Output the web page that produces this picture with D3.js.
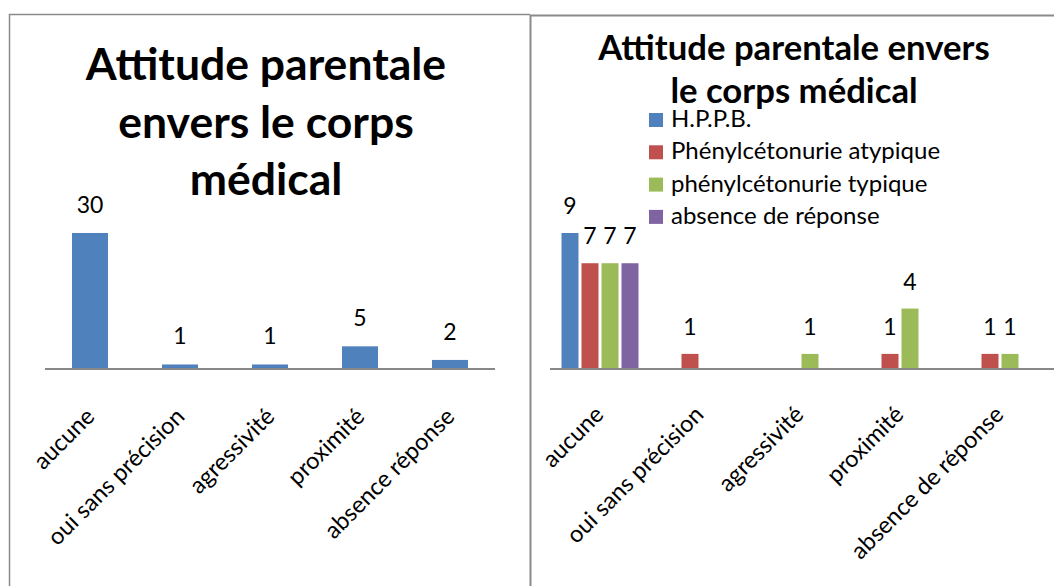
<!DOCTYPE html>
<html>
<head>
<meta charset="utf-8">
<script src="https://cdn.jsdelivr.net/npm/d3@7"></script>
<style>
  html, body { margin: 0; padding: 0; background: #fff; }
  svg { display: block; font-family: Lato, "Liberation Sans", sans-serif; }
</style>
</head>
<body>
<svg id="chart" width="1054" height="586"></svg>
<script>
// Categories shared by both charts
const categoriesLeft = ["aucune", "oui sans précision", "agressivité", "proximité", "absence réponse"];
const categoriesRight = ["aucune", "oui sans précision", "agressivité", "proximité", "absence de réponse"];

// Left chart: overall counts
const totals = [30, 1, 1, 5, 2];

// Right chart: counts by diagnosis
const seriesNames = ["H.P.P.B.", "Phénylcétonurie atypique", "phénylcétonurie typique", "absence de réponse"];
const hppb = [9, 0, 0, 0, 0];
const pcuAtypique = [7, 1, 0, 1, 1];
const pcuTypique = [7, 0, 1, 4, 1];
const absenceReponse = [7, 0, 0, 0, 0];
const seriesValues = [hppb, pcuAtypique, pcuTypique, absenceReponse];

const seriesColors = ["#4F81BD", "#C0504D", "#9BBB59", "#8064A2"];

const svg = d3.select("#chart");
const baseY = 369;
const borderColor = "#8a8a8a";
const axisColor = "#888888";
const valueFont = 23;
const catFont = 23.5;

// Panel frames
svg.append("path")
  .attr("d", "M9.5,586 L9.5,14.5 L530,14.5")
  .attr("fill", "none").attr("stroke", borderColor).attr("stroke-width", 1.5);
svg.append("path")
  .attr("d", "M530.5,586 L530.5,15.5 L1054,15.5")
  .attr("fill", "none").attr("stroke", borderColor).attr("stroke-width", 2);

// ---------- Left chart ----------
const gL = svg.append("g");
const xL = d3.scaleBand().domain(categoriesLeft).range([45, 495]).paddingInner(0.6).paddingOuter(0.3);
const yL = d3.scaleLinear().domain([0, 35]).range([baseY, baseY - 158.7]);

gL.append("text")
  .attr("text-anchor", "middle")
  .attr("font-weight", "bold")
  .attr("font-size", 44.5)
  .selectAll("tspan")
  .data(["Attitude parentale", "envers le corps", "médical"])
  .join("tspan")
  .attr("x", 266)
  .attr("y", (d, i) => 80 + i * 57.5)
  .text(d => d);

gL.selectAll("rect.bar")
  .data(totals)
  .join("rect")
  .attr("class", "bar")
  .attr("x", (d, i) => xL(categoriesLeft[i]))
  .attr("width", xL.bandwidth())
  .attr("y", d => yL(d))
  .attr("height", d => baseY - yL(d))
  .attr("fill", seriesColors[0]);

gL.selectAll("text.val")
  .data(totals)
  .join("text")
  .attr("class", "val")
  .attr("text-anchor", "middle")
  .attr("font-size", valueFont)
  .attr("x", (d, i) => xL(categoriesLeft[i]) + xL.bandwidth() / 2)
  .attr("y", d => yL(d) - 20)
  .text(d => d);

gL.append("line")
  .attr("x1", 45).attr("x2", 495).attr("y1", baseY).attr("y2", baseY)
  .attr("stroke", axisColor).attr("stroke-width", 2);

gL.selectAll("text.cat")
  .data(categoriesLeft)
  .join("text")
  .attr("class", "cat")
  .attr("text-anchor", "end")
  .attr("font-size", catFont)
  .attr("transform", d => `translate(${xL(d) + xL.bandwidth() / 2 + 6},418) rotate(-45)`)
  .text(d => d);

// ---------- Right chart ----------
const gR = svg.append("g");
const x0 = d3.scaleBand().domain(categoriesRight).range([550, 1050]).paddingInner(0.23).paddingOuter(0.115);
const x1 = d3.scaleBand().domain(d3.range(seriesNames.length)).range([0, x0.bandwidth()]).paddingInner(0.15);
const yR = d3.scaleLinear().domain([0, 10]).range([baseY, baseY - 151.1]);

gR.append("text")
  .attr("text-anchor", "middle")
  .attr("font-weight", "bold")
  .attr("font-size", 34.7)
  .selectAll("tspan")
  .data(["Attitude parentale envers", "le corps médical"])
  .join("tspan")
  .attr("x", 794)
  .attr("y", (d, i) => 60 + i * 43)
  .text(d => d);

const cells = [];
seriesValues.forEach((vals, s) => vals.forEach((v, c) => { if (v > 0) cells.push({ s, c, v }); }));

gR.selectAll("rect.bar")
  .data(cells)
  .join("rect")
  .attr("class", "bar")
  .attr("x", d => x0(categoriesRight[d.c]) + x1(d.s))
  .attr("width", x1.bandwidth())
  .attr("y", d => yR(d.v))
  .attr("height", d => baseY - yR(d.v))
  .attr("fill", d => seriesColors[d.s]);

gR.selectAll("text.val")
  .data(cells)
  .join("text")
  .attr("class", "val")
  .attr("text-anchor", "middle")
  .attr("font-size", valueFont)
  .attr("x", d => x0(categoriesRight[d.c]) + x1(d.s) + x1.bandwidth() / 2)
  .attr("y", d => yR(d.v) - 19)
  .text(d => d.v);

gR.append("line")
  .attr("x1", 550).attr("x2", 1054).attr("y1", baseY).attr("y2", baseY)
  .attr("stroke", axisColor).attr("stroke-width", 2);

gR.selectAll("text.cat")
  .data(categoriesRight)
  .join("text")
  .attr("class", "cat")
  .attr("text-anchor", "end")
  .attr("font-size", catFont)
  .attr("transform", d => `translate(${x0(d) + x0.bandwidth() / 2 + 5},416) rotate(-45)`)
  .text(d => d);

// Legend
const legend = gR.append("g");
const rows = legend.selectAll("g")
  .data(seriesNames)
  .join("g")
  .attr("transform", (d, i) => `translate(649,${113 + i * 32.3})`);
rows.append("rect")
  .attr("width", 14).attr("height", 14)
  .attr("fill", (d, i) => seriesColors[i]);
rows.append("text")
  .attr("x", 22).attr("y", 14)
  .attr("font-size", 24)
  .text(d => d);
</script>
</body>
</html>
